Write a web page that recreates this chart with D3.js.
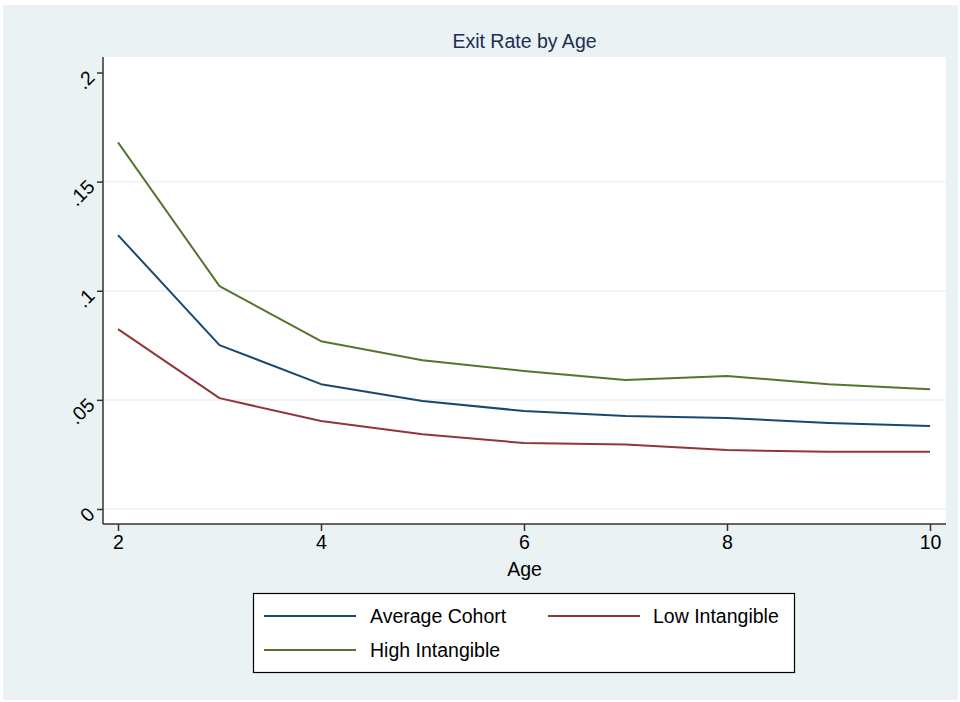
<!DOCTYPE html>
<html>
<head>
<meta charset="utf-8">
<script src="https://cdn.jsdelivr.net/npm/d3@7"></script>
<style>
  html, body { margin: 0; padding: 0; background: #ffffff; }
  svg { display: block; font-family: "Liberation Sans", Arial, sans-serif; }
</style>
</head>
<body>
<svg id="chart" width="960" height="702"></svg>
<script>
// Exit rate by firm age, three cohorts
const ages = [2, 3, 4, 5, 6, 7, 8, 9, 10];
const averageCohort = [0.1255, 0.0751, 0.0572, 0.0495, 0.0449, 0.0426, 0.0417, 0.0394, 0.0380];
const lowIntangible = [0.0824, 0.0508, 0.0403, 0.0343, 0.0302, 0.0295, 0.0270, 0.0262, 0.0262];
const highIntangible = [0.1680, 0.1021, 0.0769, 0.0682, 0.0632, 0.0591, 0.0609, 0.0572, 0.0549];
const xTicks = [2, 4, 6, 8, 10];
const yTicks = [0, 0.05, 0.1, 0.15, 0.2];
const yTickLabels = ["0", ".05", ".1", ".15", ".2"];

const series = [
  { name: "Average Cohort", values: averageCohort, color: "#1a476f" },
  { name: "Low Intangible", values: lowIntangible, color: "#90353b" },
  { name: "High Intangible", values: highIntangible, color: "#55752f" }
];

const svg = d3.select("#chart");
const bg = "#eaf2f3";
const axisColor = "#333333";
const fontSize = 19.5;

// outer graph region
svg.append("rect").attr("x", 3).attr("y", 5).attr("width", 955).attr("height", 695).attr("fill", bg);

// plot region
const plot = { left: 103, right: 946, top: 57, bottom: 524 };
svg.append("rect")
  .attr("x", plot.left).attr("y", plot.top)
  .attr("width", plot.right - plot.left).attr("height", plot.bottom - plot.top)
  .attr("fill", "#ffffff");

const x = d3.scaleLinear().domain([2, 10]).range([118, 930]);
const y = d3.scaleLinear().domain([0, 0.2]).range([509, 72.5]);

// horizontal gridlines
svg.append("g").selectAll("line")
  .data(yTicks.filter(v => v < 0.2))
  .join("line")
  .attr("x1", plot.left).attr("x2", plot.right)
  .attr("y1", d => y(d)).attr("y2", d => y(d))
  .attr("stroke", bg).attr("stroke-width", 1.5);

// series lines
const line = d3.line().x((d, i) => x(ages[i])).y(d => y(d));
svg.append("g").selectAll("path")
  .data(series)
  .join("path")
  .attr("d", d => line(d.values))
  .attr("fill", "none")
  .attr("stroke", d => d.color)
  .attr("stroke-width", 2)
  .attr("stroke-linejoin", "round");

// y axis, labels turned 45 degrees
const yAxis = d3.axisLeft(y).tickValues(yTicks)
  .tickFormat((d, i) => yTickLabels[i]).tickSize(6).tickPadding(4);
const gy = svg.append("g").attr("transform", `translate(${plot.left},0)`).call(yAxis);
gy.select(".domain").remove();
gy.append("line").attr("x1", 0).attr("x2", 0).attr("y1", plot.top).attr("y2", plot.bottom)
  .attr("stroke", axisColor).attr("stroke-width", 1.5);
gy.selectAll(".tick line").attr("stroke", axisColor).attr("stroke-width", 1.5);
gy.selectAll(".tick text")
  .attr("fill", "#000").attr("font-size", fontSize)
  .attr("text-anchor", "end").attr("dy", null).attr("x", null)
  .attr("dominant-baseline", "central")
  .attr("transform", "translate(-12,1) rotate(-45)");

// x axis
const xAxis = d3.axisBottom(x).tickValues(xTicks).tickSize(7).tickPadding(4);
const gx = svg.append("g").attr("transform", `translate(0,${plot.bottom})`).call(xAxis);
gx.select(".domain").remove();
gx.append("line").attr("x1", plot.left).attr("x2", plot.right).attr("y1", 0).attr("y2", 0)
  .attr("stroke", axisColor).attr("stroke-width", 1.5);
gx.selectAll(".tick line").attr("stroke", axisColor).attr("stroke-width", 1.5);
gx.selectAll(".tick text").attr("fill", "#000").attr("font-size", fontSize);

// axis title
svg.append("text")
  .attr("x", (plot.left + plot.right) / 2).attr("y", 576)
  .attr("text-anchor", "middle").attr("font-size", fontSize).attr("fill", "#000")
  .text("Age");

// chart title
svg.append("text")
  .attr("x", (plot.left + plot.right) / 2).attr("y", 48)
  .attr("text-anchor", "middle").attr("font-size", fontSize).attr("fill", "#1e2d53")
  .text("Exit Rate by Age");

// legend
const legend = svg.append("g");
legend.append("rect")
  .attr("x", 253.5).attr("y", 593.5).attr("width", 541).attr("height", 79)
  .attr("fill", "#fff").attr("stroke", "#000").attr("stroke-width", 1.2);
const legendPos = [
  { lx: 264, ly: 616 },
  { lx: 548, ly: 616 },
  { lx: 264, ly: 650 }
];
series.forEach((s, i) => {
  const p = legendPos[i];
  legend.append("line")
    .attr("x1", p.lx).attr("x2", p.lx + 92).attr("y1", p.ly).attr("y2", p.ly)
    .attr("stroke", s.color).attr("stroke-width", 2);
  legend.append("text")
    .attr("x", i === 1 ? 653 : 370).attr("y", p.ly + 7)
    .attr("font-size", fontSize).attr("fill", "#000")
    .text(s.name);
});
</script>
</body>
</html>
